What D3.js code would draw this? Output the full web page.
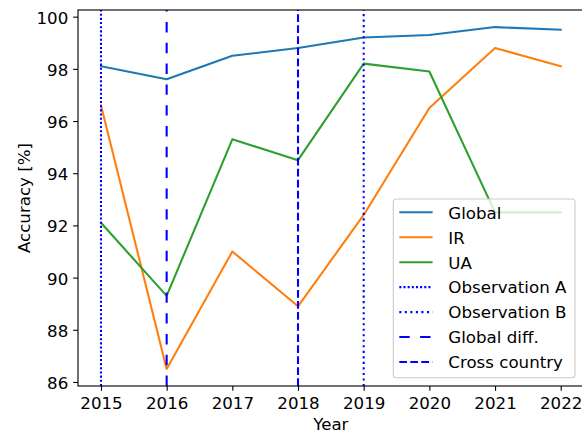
<!DOCTYPE html>
<html>
<head>
<meta charset="utf-8">
<script src="https://cdn.jsdelivr.net/npm/d3@7"></script>
<style>
  html, body { margin: 0; padding: 0; background: #fff; }
  svg { display: block; font-family: "DejaVu Sans", sans-serif; }
</style>
</head>
<body>
<svg id="chart" width="582" height="433"></svg>
<script>
// ---- data ----
const years = [2015, 2016, 2017, 2018, 2019, 2020, 2021, 2022];
const globalAcc = [98.1, 97.6, 98.5, 98.8, 99.2, 99.3, 99.6, 99.5];
const irAcc = [96.6, 86.5, 91.0, 88.9, 92.4, 96.5, 98.8, 98.1];
const uaAcc = [92.1, 89.3, 95.3, 94.5, 98.2, 97.9, 92.5, 92.5];
const seriesNames = ["Global", "IR", "UA"];
const yTicks = [86, 88, 90, 92, 94, 96, 98, 100];
const vlineNames = ["Observation A", "Observation B", "Global diff.", "Cross country"];
const vlineYears = [2015, 2019, 2016, 2018];

// ---- styles ----
const seriesColors = ["#1f77b4", "#ff7f0e", "#2ca02c"];
const vlineDash = ["2.08,2.08", "2.08,3.44", "10.4,10.4", "7.7,3.33"];
const LW = 2.08;
const FS = 16.67;

const svg = d3.select("#chart");
const mLeft = 78, mTop = 10, mBottom = 386;
const xPad = (d3.max(years) - d3.min(years)) * 0.05;
const x = d3.scaleLinear()
  .domain([d3.min(years) - xPad, d3.max(years) + xPad])
  .range([mLeft, 583.7]);
const allVals = globalAcc.concat(irAcc, uaAcc);
const yMin = d3.min(allVals), yMax = d3.max(allVals);
const yPad = (yMax - yMin) * 0.05;
const y = d3.scaleLinear().domain([yMin - yPad, yMax + yPad]).range([mBottom, mTop]);

svg.append("rect").attr("width", 582).attr("height", 433).attr("fill", "#fff");

const plot = svg.append("g");
const series = [globalAcc, irAcc, uaAcc];
const line = d3.line().x((d, i) => x(years[i])).y(d => y(d));
series.forEach((s, k) => {
  plot.append("path").datum(s).attr("d", line)
    .attr("fill", "none").attr("stroke", seriesColors[k])
    .attr("stroke-width", LW).attr("stroke-linejoin", "round").attr("stroke-linecap", "square");
});
vlineYears.forEach((yr, k) => {
  plot.append("line")
    .attr("x1", x(yr)).attr("x2", x(yr))
    .attr("y1", y.range()[0]).attr("y2", y.range()[1])
    .attr("stroke", "#0000ff").attr("stroke-width", LW)
    .attr("stroke-dasharray", vlineDash[k]);
});

// axes
const tickLen = 4.86;
const xAxis = svg.append("g").attr("transform", `translate(0,${mBottom})`)
  .call(d3.axisBottom(x).tickValues(years).tickFormat(d3.format("d"))
    .tickSize(tickLen).tickSizeOuter(0).tickPadding(6.8));
const yAxis = svg.append("g").attr("transform", `translate(${mLeft},0)`)
  .call(d3.axisLeft(y).tickValues(yTicks).tickFormat(d3.format("d"))
    .tickSize(tickLen).tickSizeOuter(0).tickPadding(4.86));
[xAxis, yAxis].forEach(a => {
  a.selectAll("path.domain").remove();
  a.selectAll(".tick line").attr("stroke", "#000").attr("stroke-width", 1.11);
  a.selectAll(".tick text").attr("fill", "#000").attr("font-size", FS)
    .attr("font-family", "DejaVu Sans");
});
yAxis.selectAll(".tick text").attr("dy", "0.39em");

// frame (spines)
svg.append("rect")
  .attr("x", mLeft).attr("y", mTop)
  .attr("width", x.range()[1] - mLeft).attr("height", mBottom - mTop)
  .attr("fill", "none").attr("stroke", "#000").attr("stroke-width", 1.11);

// axis labels
svg.append("text").attr("x", (mLeft + x.range()[1]) / 2).attr("y", 430)
  .attr("text-anchor", "middle").attr("font-size", FS).text("Year");
svg.append("text")
  .attr("transform", `translate(30,${(mTop + mBottom) / 2}) rotate(-90)`)
  .attr("text-anchor", "middle").attr("font-size", FS).text("Accuracy [%]");

// legend
const lg = svg.append("g");
lg.append("rect").attr("x", 393.3).attr("y", 199).attr("width", 181.7).attr("height", 178.7)
  .attr("rx", 3.3).attr("ry", 3.3)
  .attr("fill", "#fff").attr("fill-opacity", 0.8)
  .attr("stroke", "#cccccc").attr("stroke-width", 1.11);
const legendItems = seriesNames.map((n, k) => ({ name: n, dash: null }))
  .concat(vlineNames.map((n, k) => ({ name: n, dash: vlineDash[k] })));
const legendColors = seriesColors.concat(vlineNames.map(() => "#0000ff"));
legendItems.forEach((it, i) => {
  const cy = 212.3 + i * 24.95;
  lg.append("line").attr("x1", 399.3).attr("x2", 432.6).attr("y1", cy).attr("y2", cy)
    .attr("stroke", legendColors[i]).attr("stroke-width", LW)
    .attr("stroke-dasharray", it.dash);
  lg.append("text").attr("x", 448.3).attr("y", cy + 6.3)
    .attr("font-size", FS).attr("fill", "#000").text(it.name);
});
</script>
</body>
</html>
